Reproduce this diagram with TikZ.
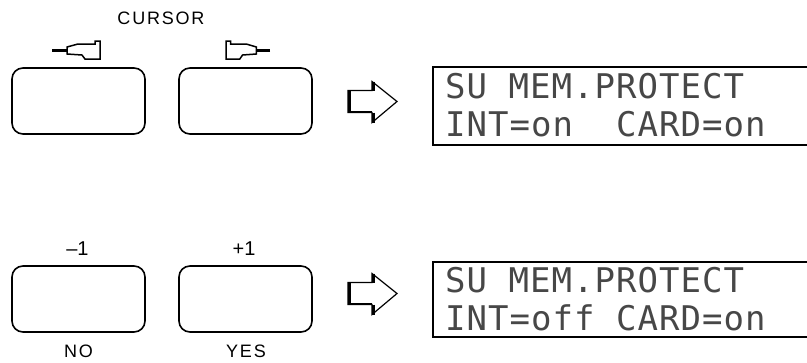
\documentclass[tikz,border=0pt]{standalone}
\usepackage{fontspec}
\setmainfont{Liberation Sans}
\newfontfamily\lcdfont[LetterSpace=3]{DejaVu Sans Mono}
\newfontfamily\lblfont[LetterSpace=10]{Liberation Sans}
\begin{document}
\begin{tikzpicture}[x=1pt,y=-1pt,
  btn/.style={draw=black,line width=1.6pt,rounded corners=11pt,minimum width=133pt,minimum height=66pt,inner sep=0pt},
  lcdbox/.style={draw=black,line width=2.6pt},
  lcdtext/.style={anchor=base west,inner sep=0pt,font=\lcdfont\fontsize{34}{34}\selectfont,text=black!72},
  lbl/.style={inner sep=0pt,font=\lblfont\fontsize{18}{18}\selectfont},
  num/.style={inner sep=0pt,font=\fontsize{20}{20}\selectfont},
  curarrow/.pic={
    \draw[line width=1.5pt,line join=miter] (-33,-3)--(-22,-6)--(-5,-6)--(-5,-9)--(0,-9)--(0,9)--(-15,9)--(-18,5)--(-33,4)--cycle;
    \draw[line width=3.5pt] (-48,0.5)--(-33,0.5);
  },
  hollowarrow/.pic={
    \draw[line width=1.2pt,line join=miter] (-49,-11)--(-25,-11)--(-25,-20)--(0,0)--(-25,21)--(-25,11)--(-49,11)--cycle;
    \draw[line width=3.5pt] (-47.5,-11)--(-47.5,11);
    \draw[line width=3.5pt] (-23.5,-20)--(-23.5,-11);
    \draw[line width=3.5pt] (-23.5,11)--(-23.5,21);
    \draw[line width=2pt] (-49,10.5)--(-25,10.5);
  }]
\useasboundingbox (0,0) rectangle (807,362);

% top row
\node[lbl] (cursor) at (161,18) {CURSOR};
\pic at (100,50) {curarrow};
\pic[xscale=-0.92] at (226,50) {curarrow};
\node[btn] (b1) at (78.5,101) {};
\node[btn] (b2) at (245.5,101) {};
\pic at (397,101.5) {hollowarrow};
\draw[lcdbox] (433,67) rectangle (830,145);
\node[lcdtext] (l1a) at (445,98) {SU MEM.PROTECT};
\node[lcdtext] (l1b) at (445,136) {INT=on\ \ CARD=on};

% bottom row
\node[num] (m1) at (77.5,249) {\textendash1};
\node[num] (p1) at (244,249) {+1};
\node[btn] (b3) at (78.5,299) {};
\node[btn] (b4) at (245.5,299) {};
\node[lbl] (no) at (78.5,351.5) {NO};
\node[lbl] (yes) at (246,351.5) {YES};
\pic at (397,293.5) {hollowarrow};
\draw[lcdbox] (433,262) rectangle (830,337);
\node[lcdtext] (l2a) at (445,292) {SU MEM.PROTECT};
\node[lcdtext] (l2b) at (445,330) {INT=off CARD=on};
\end{tikzpicture}
\end{document}
